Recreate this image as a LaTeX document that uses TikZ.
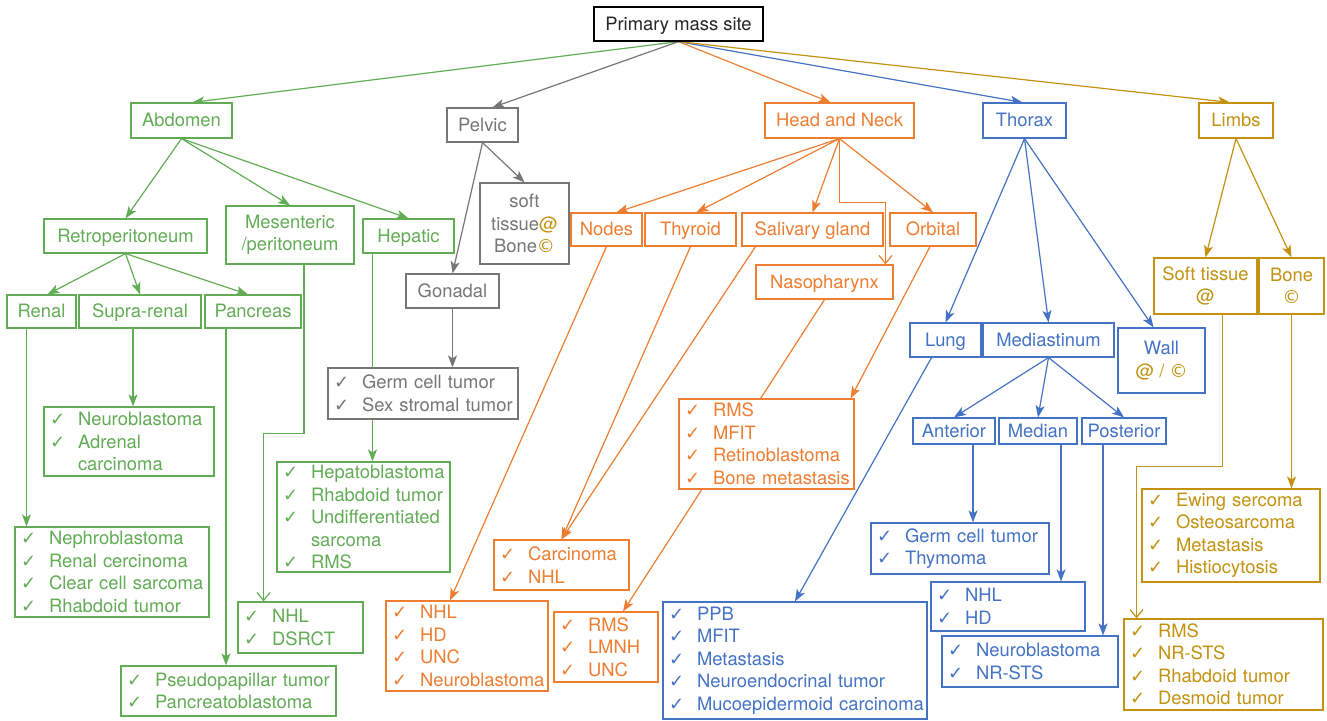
\documentclass[tikz,border=0pt]{standalone}
\usepackage{fontspec}
\setmainfont{TeX Gyre Heros}
\newfontfamily\djv{DejaVu Sans}
\usetikzlibrary{arrows.meta,backgrounds}
\definecolor{cg}{RGB}{98,172,86}
\definecolor{cgr}{RGB}{118,118,118}
\definecolor{co}{RGB}{237,125,49}
\definecolor{cb}{RGB}{68,114,196}
\definecolor{cy}{RGB}{194,146,16}
\newcommand\ck{\makebox[28pt][l]{\djv\fontsize{18}{18}\selectfont ✓}}
\newcommand\itm[1]{\ck\mbox{#1}}
\newcommand\cnt[1]{\hspace*{28pt}\mbox{#1}}
\newcommand\cpy{{\djv\fontsize{18}{18}\selectfont ©}}
\newcommand\mkbox[7][]{\pgfmathsetmacro\mbW{#5-#3}\pgfmathsetmacro\mbH{#6-#4}%
 \node[bx,#1,minimum width=\mbW pt,minimum height=\mbH pt] (#2) at ({(#3+#5)/2},{(#4+#6)/2}) {#7};}
\newcommand\mklist[7][]{\pgfmathsetmacro\mbW{#5-#3}\pgfmathsetmacro\mbH{#6-#4}\pgfmathsetmacro\mbT{#5-#3-12}%
 \node[bx,#1,minimum width=\mbW pt,minimum height=\mbH pt,text width=\mbT pt,align=left,inner xsep=6pt] (#2) at ({(#3+#5)/2},{(#4+#6)/2}) {#7};}
\tikzset{
 bx/.style={draw, fill=white, line width=1.2pt, inner sep=2pt, font=\fontsize{18.4}{22.5}\selectfont},
 sl/.style={text height=14pt, text depth=1.5pt},
 cblack/.style={draw=black,text=black!85},
 cgreen/.style={draw=cg,text=cg},
 cgrey/.style={draw=cgr,text=cgr},
 corange/.style={draw=co,text=co},
 cblue/.style={draw=cb,text=cb},
 cgold/.style={draw=cy,text=cy},
 ed/.style={line width=1.2pt, -{Stealth[length=12pt,width=9pt,inset=3pt]}},
 op/.style={line width=1.2pt, -{Straight Barb[length=8pt,width=13pt]}},
}
\begin{document}
\begin{tikzpicture}[x=1pt,y=-1pt]
\useasboundingbox (0,0) rectangle (1327,720);
% top level
\mkbox[cblack,sl]{prim}{594}{7}{763}{41}{Primary mass site}
\mkbox[cgreen,sl]{abd}{131}{103}{232}{138}{Abdomen}
\mkbox[cgrey,sl]{pel}{447}{108}{518}{142}{Pelvic}
\mkbox[corange,sl]{hn}{765}{103}{914}{138}{Head and Neck}
\mkbox[cblue,sl]{tho}{983}{103}{1066}{138}{Thorax}
\mkbox[cgold,sl]{lim}{1199}{103}{1273}{138}{Limbs}
% abdomen
\mkbox[cgreen,sl]{retro}{44}{219}{207}{253}{Retroperitoneum}
\mkbox[cgreen,align=center]{mes}{226}{206}{354}{264}{Mesenteric\\/peritoneum}
\mkbox[cgreen,sl]{hep}{363}{219}{454}{253}{Hepatic}
\mkbox[cgreen,sl]{renal}{7}{295}{76}{328}{Renal}
\mkbox[cgreen,sl]{supra}{79}{295}{201}{328}{Supra-renal}
\mkbox[cgreen,sl]{panc}{205}{295}{301}{328}{Pancreas}
\mklist[cgreen]{neuro}{44}{407}{214}{476}{\itm{Neuroblastoma}\\\itm{Adrenal}\\\cnt{carcinoma}}
\mklist[cgreen]{nephro}{15}{527}{209}{617}{\itm{Nephroblastoma}\\\itm{Renal cercinoma}\\\itm{Clear cell sarcoma}\\\itm{Rhabdoid tumor}}
\mklist[cgreen]{pseudo}{121}{666}{336}{716}{\itm{Pseudopapillar tumor}\\\itm{Pancreatoblastoma}}
\mklist[cgreen]{nhlg}{238}{602}{363}{653}{\itm{NHL}\\\itm{DSRCT}}
\mklist[cgreen]{hepb}{277}{462}{450}{572}{\itm{Hepatoblastoma}\\\itm{Rhabdoid tumor}\\\itm{Undifferentiated}\\\cnt{sarcoma}\\\itm{RMS}}
% pelvic
\mkbox[cgrey,align=center]{soft}{480}{183}{569}{264}{soft\\tissue{\color{cy}@}\\Bone{\color{cy}\cpy}}
\mkbox[cgrey,sl]{gon}{406}{274}{499}{308}{Gonadal}
\mklist[cgrey]{germ}{328}{368}{518}{419}{\itm{Germ cell tumor}\\\itm{Sex stromal tumor}}
% head and neck
\mkbox[corange,sl]{nodes}{571}{213}{642}{246}{Nodes}
\mkbox[corange,sl]{thy}{645}{213}{736}{246}{Thyroid}
\mkbox[corange,sl]{sal}{742}{213}{883}{246}{Salivary gland}
\mkbox[corange,sl]{orb}{890}{213}{976}{246}{Orbital}
\mkbox[corange,sl]{naso}{756}{265}{893}{299}{Nasopharynx}
\mklist[corange]{rmsm}{679}{399}{854}{489}{\itm{RMS}\\\itm{MFIT}\\\itm{Retinoblastoma}\\\itm{Bone metastasis}}
\mklist[corange]{carc}{494}{540}{629}{590}{\itm{Carcinoma}\\\itm{NHL}}
\mklist[corange]{nhlo}{386}{601}{548}{691}{\itm{NHL}\\\itm{HD}\\\itm{UNC}\\\itm{Neuroblastoma}}
\mklist[corange]{rmsl}{554}{612}{658}{682}{\itm{RMS}\\\itm{LMNH}\\\itm{UNC}}
% thorax
\mkbox[cblue,sl]{lung}{910}{323}{981}{357}{Lung}
\mkbox[cblue,sl]{med}{983}{323}{1114}{357}{Mediastinum}
\mkbox[cblue,align=center]{wall}{1118}{328}{1205}{393}{Wall\\{\color{cy}@ / \cpy}}
\mkbox[cblue,sl]{ant}{913}{418}{995}{444}{Anterior}
\mkbox[cblue,sl]{mdn}{999}{418}{1077}{444}{Median}
\mkbox[cblue,sl]{post}{1082}{418}{1166}{444}{Posterior}
\mklist[cblue]{germ2}{871}{523}{1049}{574}{\itm{Germ cell tumor}\\\itm{Thymoma}}
\mklist[cblue]{nhlb}{931}{582}{1085}{631}{\itm{NHL}\\\itm{HD}}
\mklist[cblue]{neurob}{942}{636}{1118}{687}{\itm{Neuroblastoma}\\\itm{NR-STS}}
\mklist[cblue]{ppb}{663}{602}{927}{719}{\itm{PPB}\\\itm{MFIT}\\\itm{Metastasis}\\\itm{Neuroendocrinal tumor}\\\itm{Mucoepidermoid carcinoma}}
% limbs
\mkbox[cgold,align=center]{stis}{1154}{258}{1257}{314}{Soft tissue\\@}
\mkbox[cgold,align=center]{bone}{1259}{258}{1324}{314}{Bone\\\cpy}
\mklist[cgold]{ewing}{1142}{489}{1320}{582}{\itm{Ewing sercoma}\\\itm{Osteosarcoma}\\\itm{Metastasis}\\\itm{Histiocytosis}}
\mklist[cgold]{rmsg}{1124}{619}{1323}{710}{\itm{RMS}\\\itm{NR-STS}\\\itm{Rhabdoid tumor}\\\itm{Desmoid tumor}}
% connectors
\begin{scope}[on background layer]
\draw[ed,cg] (prim.south) -- ([xshift=11pt]abd.north);
\draw[ed,cgr] (prim.south) -- ([xshift=10pt]pel.north);
\draw[ed,co] (prim.south) -- ([xshift=-9pt]hn.north);
\draw[ed,cb] (prim.south) -- ([xshift=-2pt]tho.north);
\draw[ed,cy] (prim.south) -- ([xshift=-6pt]lim.north);
% abdomen
\draw[ed,cg] (abd.south) -- (retro.north);
\draw[ed,cg] (abd.south) -- (mes.north);
\draw[ed,cg] (abd.south) -- (hep.north);
\draw[ed,cg] (retro.south) -- ([xshift=6pt]renal.north);
\draw[ed,cg] (retro.south) -- (supra.north);
\draw[ed,cg] (retro.south) -- ([xshift=-5pt]panc.north);
\coordinate (a1) at ([xshift=-15pt]renal.south);
\draw[ed,cg] (a1) -- (a1 |- nephro.north);
\coordinate (a2) at ([xshift=-7pt]supra.south);
\draw[ed,cg] (a2) -- (a2 |- neuro.north);
\coordinate (a3) at ([xshift=-27pt]panc.south);
\draw[ed,cg] (a3) -- (a3 |- pseudo.north);
\draw[op,cg] ([xshift=14pt]mes.south) -- ++(0,169) -| ([xshift=-37pt]nhlg.north);
\coordinate (a4) at ([xshift=-36pt]hep.south);
\draw[ed,cg] (a4) -- (a4 |- hepb.north);
% pelvic
\draw[ed,cgr] (pel.south) -- (soft.north);
\draw[ed,cgr] (pel.south) -- (gon.north);
\draw[ed,cgr] (gon.south) -- (gon.south |- germ.north);
% head and neck
\draw[ed,co] (hn.south) -- ([xshift=10pt]nodes.north);
\draw[ed,co] (hn.south) -- ([xshift=6pt]thy.north);
\draw[ed,co] (hn.south) -- (sal.north);
\draw[ed,co] (hn.south) -- (orb.north);
\draw[op,co] (hn.south) -- ++(0,64) -| ([xshift=61pt]naso.north);
\draw[ed,co] (nodes.south) -- ([xshift=-17pt]nhlo.north);
\draw[ed,co] (thy.south) -- (carc.north);
\draw[ed,co] ([xshift=-57pt]sal.south) -- (carc.north);
\draw[ed,co] (naso.south) -- ([xshift=17pt]rmsl.north);
\draw[ed,co] ([xshift=-3pt]orb.south) -- ([xshift=-4pt]rmsm.north east);
% thorax
\draw[ed,cb] (tho.south) -- (lung.north);
\draw[ed,cb] (tho.south) -- (med.north);
\draw[ed,cb] (tho.south) -- ([xshift=-8pt]wall.north);
\draw[ed,cb] ([xshift=-14pt]lung.south) -- (ppb.north);
\draw[ed,cb] (med.south) -- (ant.north);
\draw[ed,cb] (med.south) -- (mdn.north);
\draw[ed,cb] (med.south) -- (post.north);
\coordinate (t1) at ([xshift=19pt]ant.south);
\draw[ed,cb] (t1) -- (t1 |- germ2.north);
\coordinate (t2) at ([xshift=23pt]mdn.south);
\draw[ed,cb] (t2) -- (t2 |- nhlb.north);
\coordinate (t3) at ([xshift=-21pt]post.south);
\draw[ed,cb] (t3) -- (t3 |- neurob.north);
% limbs
\draw[ed,cy] (lim.south) -- (stis.north);
\draw[ed,cy] (lim.south) -- (bone.north);
\draw[op,cy] ([xshift=17pt]stis.south) -- ++(0,152) -| ([xshift=-87pt]rmsg.north);
\draw[ed,cy] (bone.south) -- (bone.south |- ewing.north);
\end{scope}
\end{tikzpicture}
\end{document}
